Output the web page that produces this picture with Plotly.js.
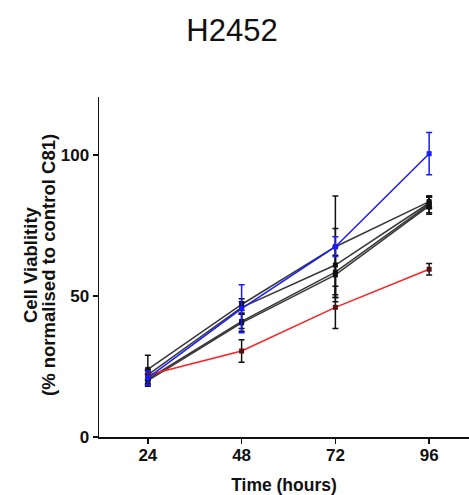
<!DOCTYPE html>
<html>
<head>
<meta charset="utf-8">
<script src="https://cdn.plot.ly/plotly-3.0.1.min.js"></script>
<style>html,body{margin:0;padding:0;background:#fff;}#chart{width:469px;height:495px;}</style>
</head>
<body>
<div id="chart"></div>
<script>
const hours = [24, 48, 72, 96];
const xTickLabels = ['24', '48', '72', '96'];
const yTickVals = [0, 50, 100];
const yTitleLines = ['Cell Viablitity', '(% normalised to control C81)'];

const black1 = [24, 47, 67.5, 83.5];
const black1Err = [5, 2, 18, 2];
const black2 = [22, 46, 61, 83];
const black2Err = [2, 2, 13, 2];
const black3 = [20.5, 41, 58.5, 82.5];
const black3Err = [2, 2.5, 9, 3];
const black4 = [20, 40.5, 57.5, 82];
const black4Err = [2, 3, 7, 3];
const blueVals = [21, 45.5, 67.5, 100.5];
const blueErr = [2.5, 8.5, 3.5, 7.5];
const redVals = [22, 30.5, 46, 59.5];
const redErr = [1.5, 4, 7.5, 2];

const FONT = 'Liberation Sans, Arial, sans-serif';

function series(y, err, lineColor, errColor, markerColor) {
  return {
    x: hours, y: y, type: 'scatter', mode: 'lines+markers',
    line: {color: lineColor, width: 1.5},
    marker: {color: markerColor, size: 5, symbol: 'square'},
    error_y: {type: 'data', array: err, visible: true, color: errColor, thickness: 1.5, width: 3},
    showlegend: false, hoverinfo: 'skip'
  };
}

const data = [
  series(black1, black1Err, 'rgba(20,20,20,0.85)', '#111', '#111'),
  series(black2, black2Err, 'rgba(20,20,20,0.85)', '#111', '#111'),
  series(black3, black3Err, 'rgba(20,20,20,0.85)', '#111', '#111'),
  series(black4, black4Err, 'rgba(20,20,20,0.85)', '#111', '#111'),
  series(redVals, redErr, '#ff2020', '#111', '#551010'),
  series(blueVals, blueErr, '#1a1aff', '#1a1aff', '#1a1aff')
];

const layout = {
  width: 469, height: 495,
  margin: {l: 99, r: 0, t: 97, b: 58, pad: 0},
  paper_bgcolor: '#fff', plot_bgcolor: '#fff',
  font: {family: FONT, color: '#111'},
  title: {text: 'H2452', font: {size: 31, color: '#111', family: FONT},
          x: 232/469, xref: 'container', xanchor: 'center', y: 1 - 30/495, yref: 'container', yanchor: 'middle'},
  xaxis: {
    range: [11.5, 106.2], tickvals: hours, ticktext: xTickLabels,
    showgrid: false, zeroline: false, showline: true, linecolor: '#111', linewidth: 1.5,
    ticks: 'outside', ticklen: 5, tickwidth: 1.5, tickcolor: '#111', ticklabelstandoff: -3,
    tickfont: {size: 17, weight: 'bold', color: '#111'},
    title: {text: 'Time (hours)', font: {size: 17.5, weight: 'bold', color: '#111'}, standoff: 18}
  },
  yaxis: {
    range: [0, 120.6], tickvals: yTickVals,
    showgrid: false, zeroline: false, showline: true, linecolor: '#111', linewidth: 1.5,
    ticks: 'outside', ticklen: 5, tickwidth: 1.5, tickcolor: '#111',
    tickfont: {size: 17, weight: 'bold', color: '#111'}
  },
  annotations: yTitleLines.map((t, i) => ({
    text: t, textangle: -90, showarrow: false,
    xref: 'paper', yref: 'paper', x: 0, y: (437 - 265) / 340,
    xanchor: 'center', yanchor: 'middle',
    xshift: [30, 48][i] - 99,
    font: {size: 18.5, weight: 'bold', color: '#111', family: FONT}
  }))
};

Plotly.newPlot('chart', data, layout, {staticPlot: true, displayModeBar: false});
</script>
</body>
</html>
